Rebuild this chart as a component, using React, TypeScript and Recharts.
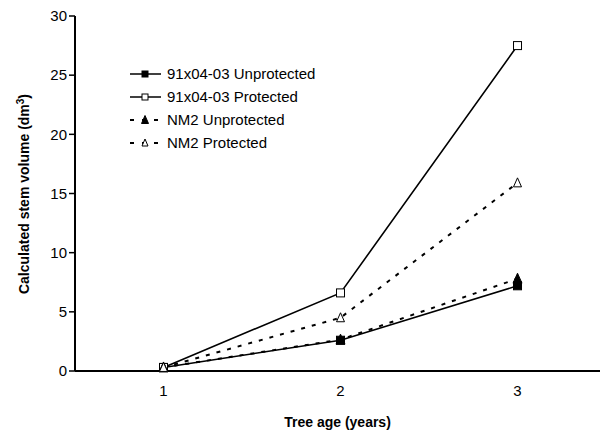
import { LineChart, Line, XAxis, YAxis } from 'recharts'

const ages = [1, 2, 3]
const unprot91 = [0.3, 2.6, 7.2]
const prot91 = [0.3, 6.6, 27.5]
const unprotNM2 = [0.3, 2.65, 7.8]
const protNM2 = [0.3, 4.5, 15.9]
const yTicks = [0, 5, 10, 15, 20, 25, 30]

const data = ages.map((age, i) => ({
  age,
  unprot91: unprot91[i],
  prot91: prot91[i],
  unprotNM2: unprotNM2[i],
  protNM2: protNM2[i],
}))

const FONT = '"Liberation Sans", Arial, sans-serif'
const INK = '#000'

type Shape = 'square' | 'triangle'

function Marker({ cx, cy, shape, filled, size }: { cx: number; cy: number; shape: Shape; filled: boolean; size: number }) {
  const fill = filled ? INK : '#fff'
  const h = size / 2
  if (shape === 'square') {
    return <rect x={cx - h} y={cy - h} width={size} height={size} fill={fill} stroke={INK} strokeWidth={1} />
  }
  const pts = `${cx},${cy - h - 1} ${cx - h},${cy + h} ${cx + h},${cy + h}`
  return <polygon points={pts} fill={fill} stroke={INK} strokeWidth={1} />
}

const dotFor = (shape: Shape, filled: boolean, size: number) => (p: any) =>
  <Marker key={p.index} cx={p.cx} cy={p.cy} shape={shape} filled={filled} size={size} />

const SERIES = [
  { key: 'unprot91', name: '91x04-03 Unprotected', shape: 'square' as Shape, filled: true, dash: undefined, size: 8 },
  { key: 'prot91', name: '91x04-03 Protected', shape: 'square' as Shape, filled: false, dash: undefined, size: 8 },
  { key: 'unprotNM2', name: 'NM2 Unprotected', shape: 'triangle' as Shape, filled: true, dash: '4 7', size: 9 },
  { key: 'protNM2', name: 'NM2 Protected', shape: 'triangle' as Shape, filled: false, dash: '4 7', size: 8 },
]

// legend drawn as an overlay, Recharts' Legend would steal plot width
function LegendBox() {
  return (
    <svg width={200} height={95} style={{ position: 'absolute', left: 128, top: 66, overflow: 'visible' }}>
      {SERIES.map((s, i) => {
        const y = 8 + i * 23
        return (
          <g key={s.key}>
            <line x1={2} x2={33} y1={y} y2={y} stroke={INK} strokeWidth={s.dash ? 2 : 1.5} strokeDasharray={s.dash ? '4 8' : undefined} />
            <Marker cx={17} cy={y} shape={s.shape} filled={s.filled} size={s.size - 2} />
            <text x={39} y={y + 5} fontSize={15} fontFamily={FONT} fill={INK}>{s.name}</text>
          </g>
        )
      })}
    </svg>
  )
}

function YLabel() {
  return (
    <text x={29} y={194} transform="rotate(-90 29 194)" textAnchor="middle" fontSize={14} fontWeight="bold" fontFamily={FONT} fill={INK}>
      Calculated stem volume (dm<tspan dy={-5} fontSize={10}>3</tspan><tspan dy={5}>)</tspan>
    </text>
  )
}

export default function App() {
  return (
    <div style={{ position: 'absolute', left: 0, top: 0, width: 602, height: 432, background: '#fff' }}>
      <LineChart width={602} height={432} data={data} margin={{ top: 16, right: 2, bottom: 0, left: 0 }}>
        <XAxis
          dataKey="age" type="number" domain={[0.5, 3.466]} ticks={ages} allowDataOverflow
          tickLine={false} axisLine={{ stroke: INK, strokeWidth: 2 }}
          tick={{ fill: INK, fontSize: 15, fontFamily: FONT, dy: 6 }}
          height={61}
          label={{ value: 'Tree age (years)', position: 'insideBottom', offset: 5, fill: INK, fontSize: 14, fontWeight: 'bold', fontFamily: FONT }}
        />
        <YAxis
          domain={[0, 30]} ticks={yTicks} interval={0}
          axisLine={{ stroke: INK, strokeWidth: 2 }} tickLine={{ stroke: INK, strokeWidth: 1.5 }} tickSize={6}
          tick={{ fill: INK, fontSize: 15, fontFamily: FONT }}
          width={75}
          label={<YLabel />}
        />
        {SERIES.map(s => (
          <Line
            key={s.key} dataKey={s.key} name={s.name} type="linear"
            stroke={INK} strokeWidth={s.dash ? 2 : 1.6} strokeDasharray={s.dash}
            dot={dotFor(s.shape, s.filled, s.size)} activeDot={false}
            isAnimationActive={false}
          />
        ))}
      </LineChart>
      <LegendBox />
    </div>
  )
}
